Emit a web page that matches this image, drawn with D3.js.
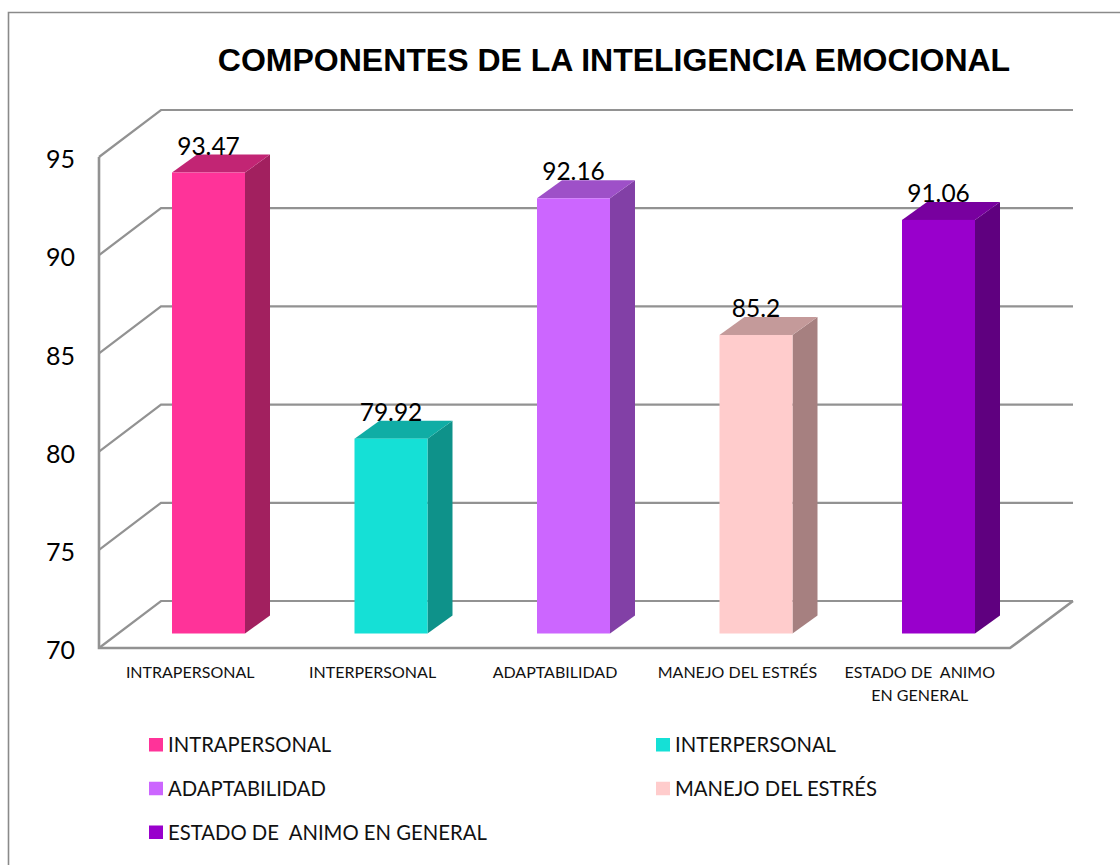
<!DOCTYPE html>
<html><head><meta charset="utf-8"><script src="https://cdnjs.cloudflare.com/ajax/libs/d3/7.8.5/d3.min.js"></script>
<style>html,body{margin:0;padding:0;background:#fff}svg{display:block}</style></head><body><svg id="c" width="1120" height="865"></svg>
<script>
const categories=["INTRAPERSONAL","INTERPERSONAL","ADAPTABILIDAD","MANEJO DEL ESTRÉS","ESTADO DE  ANIMO EN GENERAL"];
const axisLines=[["INTRAPERSONAL"],["INTERPERSONAL"],["ADAPTABILIDAD"],["MANEJO DEL ESTRÉS"],["ESTADO DE  ANIMO","EN GENERAL"]];
const values=[93.47,79.92,92.16,85.2,91.06];
const valueLabels=["93.47","79.92","92.16","85.2","91.06"];
const yTicks=[70,75,80,85,90,95];
const front=["#FF3399","#15E0D6","#CC66FF","#FFCCCC","#9900CC"];
const side=["#A2205F","#0E928A","#8240A6","#A68080","#5F007F"];
const top_=["#C22574","#10ADA5","#9E50C8","#C49A9A","#78009F"];
const title="COMPONENTES DE LA INTELIGENCIA EMOCIONAL";
const svg=d3.select("#c");
const FONT="Lato, Carlito, sans-serif";
const G="#929292";
// frame
svg.append("path").attr("d","M8.5,865V12.5H1120").attr("fill","none").attr("stroke","#8a8a8a").attr("stroke-width",1.6);
svg.append("text").attr("x",614).attr("y",71).attr("text-anchor","middle").attr("font-family","Liberation Sans").attr("font-weight",700).attr("font-size",32).attr("fill","#000").text(title);
const y=d3.scaleLinear().domain([70,95]).range([648,157]);
const dx=62,dy=-47,left=99,right=1010;
const grid=svg.append("g").attr("fill","none").attr("stroke",G).attr("stroke-width",2.2);
grid.selectAll("path").data(yTicks).join("path").attr("d",v=>d3.line()([[left,y(v)],[left+dx,y(v)+dy],[right+dx+1,y(v)+dy]]));
grid.append("path").attr("d",d3.line()([[left,y(95)],[left,y(70)],[right,y(70)],[right+dx+1,y(70)+dy]])).attr("stroke-width",2.6);
const yAxis=d3.axisLeft(y).tickValues(yTicks).tickSize(0).tickPadding(24).tickFormat(d3.format("d"));
const ya=svg.append("g").attr("transform",`translate(${left},2)`).call(yAxis);
ya.select(".domain").remove();
ya.selectAll("text").attr("font-family",FONT).attr("font-size",25).attr("fill","#000").attr("dy","0.35em");
const xBar=d3.scaleBand().domain(categories).range([117.25,1029.75]).paddingInner(0.6).paddingOuter(0.3);
const xLabel=d3.scaleBand().domain(categories).range([100,1012]);
const bw=xBar.bandwidth(),ox=25,oy=-18,barOffset=-14.5;
const base=y(70)+barOffset;
const yb=v=>y(v)+barOffset;
const bars=svg.append("g").selectAll("g").data(categories).join("g");
bars.append("path").attr("fill",(c,i)=>side[i]).attr("d",(c,i)=>{const x=xBar(c)+bw;return d3.line()([[x,yb(values[i])],[x+ox,yb(values[i])+oy],[x+ox,base+oy],[x,base]])+"Z";});
bars.append("path").attr("fill",(c,i)=>top_[i]).attr("d",(c,i)=>{const x=xBar(c),t=yb(values[i]);return d3.line()([[x,t],[x+ox,t+oy],[x+bw+ox,t+oy],[x+bw,t]])+"Z";});
bars.append("rect").attr("fill",(c,i)=>front[i]).attr("x",c=>xBar(c)).attr("width",bw).attr("y",(c,i)=>yb(values[i])).attr("height",(c,i)=>base-yb(values[i]));
// value labels sit on the back edge of the bar top
svg.append("g").selectAll("text").data(categories).join("text")
 .attr("x",c=>xBar(c)+bw/2)
 .attr("y",(c,i)=>yb(values[i])+oy)
 .attr("text-anchor","middle").attr("font-family",FONT).attr("font-size",24.5).attr("fill","#000")
 .text((c,i)=>valueLabels[i]);
// category labels
const cat=svg.append("g").selectAll("text").data(categories).join("text").attr("text-anchor","middle").attr("font-family",FONT).attr("font-size",16).attr("fill","#111").attr("y",678).attr("x",c=>xLabel(c)+xLabel.bandwidth()/2);
cat.selectAll("tspan").data((c,i)=>axisLines[i].map(t=>({t,c}))).join("tspan").style("white-space","pre").attr("x",d=>xLabel(d.c)+xLabel.bandwidth()/2-1).attr("dy",(d,j)=>j?23:0).text(d=>d.t);
// legend
const lx=d3.scalePoint().domain([0,1]).range([149,656]);
const ly=d3.scalePoint().domain([0,1,2]).range([745,832.5]);
const lg=svg.append("g").selectAll("g").data(categories).join("g").attr("transform",(c,i)=>`translate(${lx(i%2)},${ly(Math.floor(i/2))})`);
lg.append("rect").attr("x",0).attr("y",-7).attr("width",14).attr("height",13.5).attr("fill",(c,i)=>front[i]);
lg.append("text").attr("x",19).attr("y",7).attr("font-family",FONT).attr("font-size",20.3).attr("fill","#111").style("white-space","pre").text(c=>c);
</script></body></html>
